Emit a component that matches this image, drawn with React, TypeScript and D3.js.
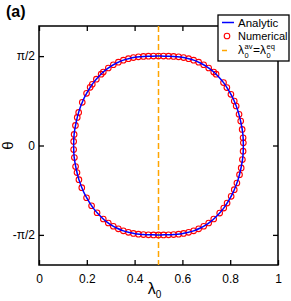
import React, { useRef, useEffect } from 'react';
import * as d3 from 'd3';

// analytic curve: theta from +pi/2 to -pi/2, right and left branch
const analyticTheta = [1.5708, 1.5705, 1.569, 1.565, 1.56, 1.55, 1.53, 1.5, 1.45, 1.4, 1.35, 1.3, 1.2, 1.1, 1.0, 0.9, 0.8, 0.6, 0.4, 0.2, 0,
  -0.2, -0.4, -0.6, -0.8, -0.9, -1.0, -1.1, -1.2, -1.3, -1.35, -1.4, -1.45, -1.5, -1.53, -1.55, -1.56, -1.565, -1.569, -1.5705, -1.5708];
const analyticRight = [0.500, 0.524, 0.543, 0.564, 0.579, 0.598, 0.622, 0.647, 0.675, 0.697, 0.714, 0.729, 0.753, 0.773, 0.789, 0.803, 0.815, 0.833, 0.845, 0.853, 0.855,
  0.853, 0.845, 0.833, 0.815, 0.803, 0.789, 0.773, 0.753, 0.729, 0.714, 0.697, 0.675, 0.647, 0.622, 0.598, 0.579, 0.564, 0.543, 0.524, 0.500];
const analyticLeft = [0.500, 0.476, 0.457, 0.436, 0.421, 0.402, 0.378, 0.353, 0.325, 0.303, 0.286, 0.271, 0.247, 0.227, 0.211, 0.197, 0.185, 0.167, 0.155, 0.147, 0.145,
  0.147, 0.155, 0.167, 0.185, 0.197, 0.211, 0.227, 0.247, 0.271, 0.286, 0.303, 0.325, 0.353, 0.378, 0.402, 0.421, 0.436, 0.457, 0.476, 0.500];

// numerical points (circles)
const topLambda = [0.269, 0.290, 0.311, 0.332, 0.353, 0.374, 0.395, 0.416, 0.437, 0.458, 0.479, 0.500, 0.521, 0.542, 0.563, 0.584, 0.605, 0.626, 0.647, 0.668, 0.689, 0.710, 0.731];
const topTheta = [1.292, 1.362, 1.419, 1.465, 1.500, 1.526, 1.545, 1.558, 1.565, 1.569, 1.571, 1.571, 1.571, 1.569, 1.565, 1.558, 1.545, 1.526, 1.500, 1.465, 1.419, 1.362, 1.292];
const bottomLambda = [0.731, 0.710, 0.689, 0.668, 0.647, 0.626, 0.605, 0.584, 0.563, 0.542, 0.521, 0.500, 0.479, 0.458, 0.437, 0.416, 0.395, 0.374, 0.353, 0.332, 0.311, 0.290, 0.269];
const bottomTheta = [-1.292, -1.362, -1.419, -1.465, -1.500, -1.526, -1.545, -1.558, -1.565, -1.569, -1.571, -1.571, -1.571, -1.569, -1.565, -1.558, -1.545, -1.526, -1.500, -1.465, -1.419, -1.362, -1.292];
const rightTheta = [1.253, 1.106, 1.018, 0.900, 0.782, 0.694, 0.547, 0.429, 0.282, 0.135, 0.047, -0.100, -0.247, -0.394, -0.512, -0.659, -0.776, -0.894, -1.012, -1.100, -1.188];
const rightLambda = [0.741, 0.772, 0.786, 0.803, 0.817, 0.825, 0.837, 0.844, 0.850, 0.854, 0.855, 0.854, 0.851, 0.846, 0.839, 0.828, 0.817, 0.804, 0.787, 0.773, 0.756];
const leftTheta = [-1.182, -1.059, -0.918, -0.741, -0.600, -0.476, -0.371, -0.212, -0.071, 0.071, 0.194, 0.353, 0.494, 0.582, 0.759, 0.917, 1.023, 1.076, 1.165, 1.253];
const leftLambda = [0.243, 0.220, 0.199, 0.179, 0.167, 0.159, 0.153, 0.148, 0.145, 0.145, 0.147, 0.1525, 0.160, 0.166, 0.181, 0.199, 0.214, 0.223, 0.240, 0.260];

const equalLambda = 0.5;

const xTicks = [0, 0.2, 0.4, 0.6, 0.8, 1];
const xTickLabels = ['0', '0.2', '0.4', '0.6', '0.8', '1'];
const yTicks = [Math.PI / 2, 0, -Math.PI / 2];
const yTickLabels = ['π/2', '0', '-π/2'];

const FONT = 'Liberation Sans, Arial, Helvetica, sans-serif';

export default function App() {
    const svgRef = useRef<SVGSVGElement>(null);

    const width = 291;
    const height = 301;
    const margin = { top: 26, right: 13, bottom: 36, left: 39 };

    useEffect(() => {
        const svg = d3.select(svgRef.current);
        svg.selectAll('*').remove();

        const x = d3.scaleLinear().domain([0, 1]).range([margin.left, width - margin.right]);
        const y = d3.scaleLinear().domain([-2.1, 2.1]).range([height - margin.bottom, margin.top]);
        const [x0, x1] = x.range();
        const [y0, y1] = y.range();

        // axes: ticks pointing inward on all four sides
        const bottom = svg.append('g')
            .attr('transform', `translate(0,${y0})`)
            .call(d3.axisBottom(x).tickValues(xTicks).tickSizeInner(-5).tickSizeOuter(0)
                .tickPadding(9).tickFormat((d, i) => xTickLabels[i]));
        const top = svg.append('g')
            .attr('transform', `translate(0,${y1})`)
            .call(d3.axisTop(x).tickValues(xTicks).tickSizeInner(-5).tickSizeOuter(0).tickFormat(() => ''));
        const left = svg.append('g')
            .attr('transform', `translate(${x0},0)`)
            .call(d3.axisLeft(y).tickValues(yTicks).tickSizeInner(-5).tickSizeOuter(0)
                .tickPadding(4).tickFormat((d, i) => yTickLabels[i]));
        const right = svg.append('g')
            .attr('transform', `translate(${x1},0)`)
            .call(d3.axisRight(y).tickValues(yTicks).tickSizeInner(-5).tickSizeOuter(0).tickFormat(() => ''));

        [bottom, top, left, right].forEach(g => {
            g.select('.domain').remove();
            g.selectAll('line').attr('stroke', '#000').attr('stroke-width', 1.3);
            g.selectAll('text').attr('font-family', FONT).attr('font-size', 12).attr('fill', '#000');
        });

        // frame
        svg.append('rect')
            .attr('x', x0).attr('y', y1)
            .attr('width', x1 - x0).attr('height', y0 - y1)
            .attr('fill', 'none').attr('stroke', '#000').attr('stroke-width', 1.5);

        // vertical dashed line
        svg.append('line')
            .attr('x1', x(equalLambda)).attr('x2', x(equalLambda))
            .attr('y1', y1).attr('y2', y0)
            .attr('stroke', '#ffa500').attr('stroke-width', 1.5)
            .attr('stroke-dasharray', '6,3');

        // analytic curve: right branch down, left branch back up
        const pts: [number, number][] = analyticTheta.map((t, i) => [analyticRight[i], t]);
        for (let i = analyticTheta.length - 2; i > 0; i--) pts.push([analyticLeft[i], analyticTheta[i]]);
        const line = d3.line<[number, number]>()
            .x(d => x(d[0])).y(d => y(d[1]))
            .curve(d3.curveCatmullRomClosed);

        // numerical circles
        const numerical: [number, number][] = [
            ...topLambda.map((l, i) => [l, topTheta[i]] as [number, number]),
            ...rightLambda.map((l, i) => [l, rightTheta[i]] as [number, number]),
            ...bottomLambda.map((l, i) => [l, bottomTheta[i]] as [number, number]),
            ...leftLambda.map((l, i) => [l, leftTheta[i]] as [number, number]),
        ];
        svg.append('g').selectAll('circle')
            .data(numerical)
            .join('circle')
            .attr('cx', d => x(d[0]))
            .attr('cy', d => y(d[1]))
            .attr('r', 2.8)
            .attr('fill', 'none')
            .attr('stroke', '#ff0000')
            .attr('stroke-width', 1.1);

        svg.append('path')
            .attr('d', line(pts))
            .attr('fill', 'none')
            .attr('stroke', '#0000ff')
            .attr('stroke-width', 1.5);

        // axis titles
        const xl = svg.append('text')
            .attr('x', (x0 + x1) / 2 - 4).attr('y', 294)
            .attr('text-anchor', 'middle')
            .attr('font-family', FONT).attr('font-size', 16);
        xl.append('tspan').text('λ');
        xl.append('tspan').attr('font-size', 10).attr('dy', 4).text('0');

        svg.append('text')
            .attr('transform', `translate(13,${y(0)}) rotate(-90)`)
            .attr('text-anchor', 'middle')
            .attr('font-family', FONT).attr('font-size', 15)
            .text('θ');

        svg.append('text')
            .attr('x', 6).attr('y', 17)
            .attr('font-family', FONT).attr('font-size', 16).attr('font-weight', 'bold')
            .text('(a)');

        // legend
        const lg = svg.append('g');
        lg.append('rect')
            .attr('x', 218).attr('y', 15).attr('width', 71).attr('height', 46)
            .attr('fill', '#fff').attr('stroke', '#000').attr('stroke-width', 1.3);
        lg.append('line')
            .attr('x1', 222).attr('x2', 234).attr('y1', 22.5).attr('y2', 22.5)
            .attr('stroke', '#0000ff').attr('stroke-width', 1.5);
        lg.append('text')
            .attr('x', 238).attr('y', 26.5)
            .attr('font-family', FONT).attr('font-size', 11.5).text('Analytic');
        lg.append('circle')
            .attr('cx', 227).attr('cy', 36).attr('r', 2.8)
            .attr('fill', 'none').attr('stroke', '#ff0000').attr('stroke-width', 1.1);
        lg.append('text')
            .attr('x', 238).attr('y', 40)
            .attr('font-family', FONT).attr('font-size', 11).text('Numerical');
        lg.append('line')
            .attr('x1', 222).attr('x2', 227).attr('y1', 50.5).attr('y2', 50.5)
            .attr('stroke', '#ffa500').attr('stroke-width', 1.5);
        const eq = [
            { t: 'λ', x: 238, y: 54, s: 12 },
            { t: 'av', x: 244.5, y: 48.5, s: 7.5 },
            { t: '0', x: 244.5, y: 57.5, s: 7.5 },
            { t: '=', x: 253, y: 54, s: 12 },
            { t: 'λ', x: 260, y: 54, s: 12 },
            { t: 'eq', x: 266.5, y: 48.5, s: 7.5 },
            { t: '0', x: 266.5, y: 57.5, s: 7.5 },
        ];
        lg.selectAll('text.eq')
            .data(eq)
            .join('text')
            .attr('class', 'eq')
            .attr('x', d => d.x).attr('y', d => d.y)
            .attr('font-family', FONT).attr('font-size', d => d.s)
            .text(d => d.t);
    }, []);

    return (
        <svg
            ref={svgRef}
            width={width}
            height={height}
            style={{ position: 'absolute', left: 0, top: 0, background: '#fff' }}
        />
    );
}
